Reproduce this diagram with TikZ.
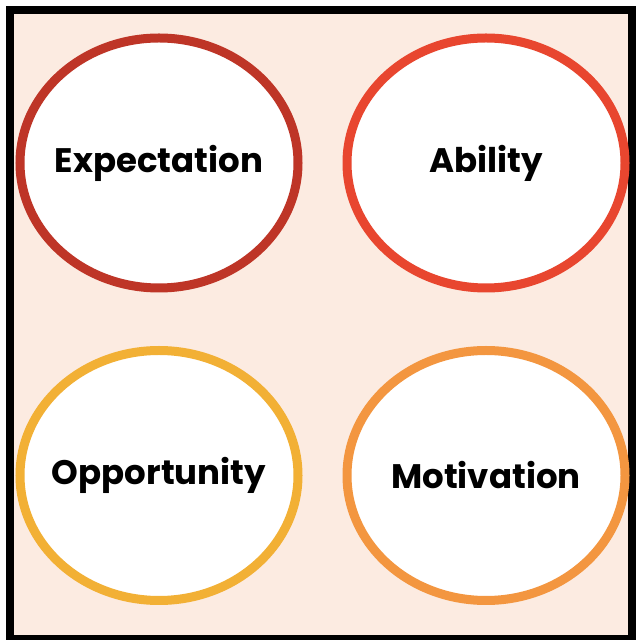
\documentclass[tikz,border=0pt]{standalone}
\usepackage{fontspec}
\setmainfont{Poppins}
\usetikzlibrary{shapes.geometric}
\definecolor{peach}{HTML}{FCEBE1}
\definecolor{expred}{HTML}{BE3527}
\definecolor{abired}{HTML}{E8462F}
\definecolor{oppyel}{HTML}{F2B035}
\definecolor{motorg}{HTML}{F39640}

\begin{document}
\begin{tikzpicture}[x=1pt,y=1pt,
	goal/.style={ellipse,draw,line width=9pt,fill=white,inner xsep=-60pt,inner ysep=0pt,
		minimum width=278pt,minimum height=250pt,
		font=\fontsize{34}{40}\selectfont\bfseries}]
		\useasboundingbox (0,0) rectangle (640,640);
		\clip (0,0) rectangle (640,640);
		% frame
		\draw [line width=8pt,fill=peach] (10,1) rectangle (632,630);
		% the four ellipses
		\node [goal,draw=expred] (expect) at (159,477) {Expectation};
		\node [goal,draw=abired] (ability) at (486,477) {Ability};
		\node [goal,draw=oppyel] (opport) at (159,164.5) {Opportunity};
		\node [goal,draw=motorg] (motiv) at (486,164.5) {Motivation};
	\end{tikzpicture}
\end{document}
